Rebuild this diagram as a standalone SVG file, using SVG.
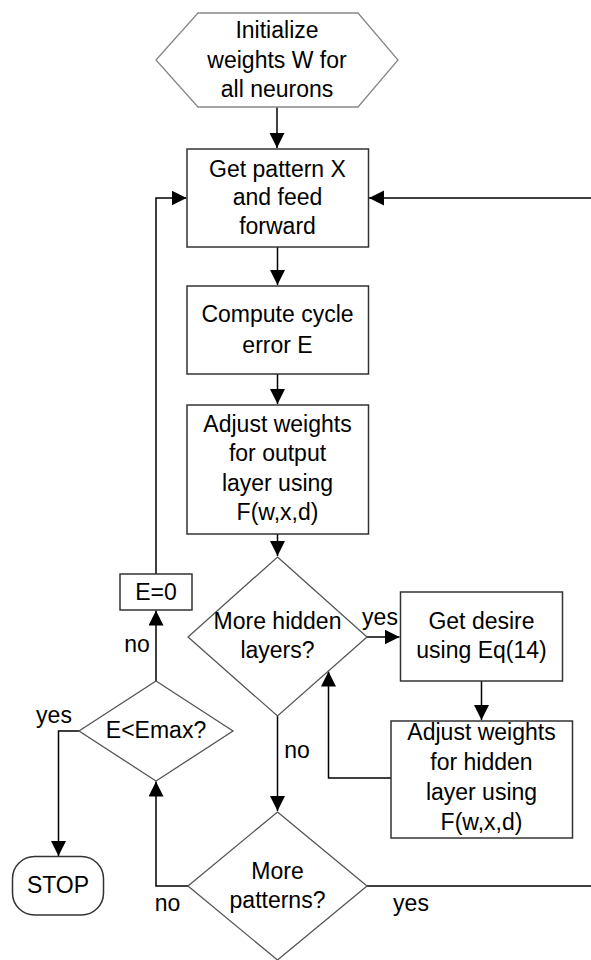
<svg xmlns="http://www.w3.org/2000/svg" width="591" height="960" viewBox="0 0 591 960">
<style>
text{font-family:"Liberation Sans",Arial,sans-serif;font-size:23px;fill:#000;text-anchor:middle}
.box{fill:#fff;stroke:#333;stroke-width:1.5}
.dia{fill:#fff;stroke:#555;stroke-width:1.3}
.hex{fill:#fff;stroke:#888;stroke-width:1.3}
.c{fill:none;stroke:#000;stroke-width:1.5}
.lbl{text-anchor:middle}
</style>
<defs>
<marker id="ah" markerUnits="userSpaceOnUse" markerWidth="16" markerHeight="16" refX="15" refY="7.5" orient="auto">
<path d="M0,0 L15,7.5 L0,15 z" fill="#000"/>
</marker>
</defs>
<rect width="591" height="960" fill="#fff"/>
<g id="connectors">
<path class="c" d="M277,107 V148" marker-end="url(#ah)"/>
<path class="c" d="M277.5,247 V285" marker-end="url(#ah)"/>
<path class="c" d="M277.5,374 V404" marker-end="url(#ah)"/>
<path class="c" d="M277.5,534 V556" marker-end="url(#ah)"/>
<path class="c" d="M367,637 H399.5" marker-end="url(#ah)"/>
<path class="c" d="M481.5,681 V720" marker-end="url(#ah)"/>
<path class="c" d="M391,778 H328.5 V671.5" marker-end="url(#ah)"/>
<path class="c" d="M277.5,716 V811" marker-end="url(#ah)"/>
<path class="c" d="M188,886 H156 V781.5" marker-end="url(#ah)"/>
<path class="c" d="M156,681 V610.5" marker-end="url(#ah)"/>
<path class="c" d="M156,574 V198 H186.5" marker-end="url(#ah)"/>
<path class="c" d="M79,731 H58.5 V856" marker-end="url(#ah)"/>
<path class="c" d="M367,886 H600 V198 H369" marker-end="url(#ah)"/>
<text class="lbl" x="137" y="652">no</text>
<text class="lbl" x="54" y="723">yes</text>
<text class="lbl" x="380" y="625">yes</text>
<text class="lbl" x="297" y="758">no</text>
<text class="lbl" x="167.5" y="911">no</text>
<text class="lbl" x="411" y="911">yes</text>
</g>
<g id="init">
<polygon class="hex" points="156,60 198,13 358,13 398,60 358,107 198,107"/>
<text x="277" y="37.5">Initialize</text>
<text x="277" y="67.5">weights W for</text>
<text x="277" y="96.5">all neurons</text>
</g>
<g id="getpattern">
<rect class="box" x="187" y="149" width="181.5" height="98"/>
<text x="277.5" y="176.5">Get pattern X</text>
<text x="277.5" y="205">and feed</text>
<text x="277.5" y="233.5">forward</text>
</g>
<g id="compute">
<rect class="box" x="187" y="286" width="181.5" height="88"/>
<text x="277.5" y="321.5">Compute cycle</text>
<text x="277.5" y="352.5">error E</text>
</g>
<g id="adjustout">
<rect class="box" x="187" y="405" width="181.5" height="129"/>
<text x="277.5" y="431.5">Adjust weights</text>
<text x="277.5" y="461">for output</text>
<text x="277.5" y="490.5">layer using</text>
<text x="277.5" y="520">F(w,x,d)</text>
</g>
<g id="morehidden">
<polygon class="dia" points="277.5,557 367,637 277.5,716 188,637"/>
<text x="277.5" y="629">More hidden</text>
<text x="277.5" y="658">layers?</text>
</g>
<g id="getdesire">
<rect class="box" x="400.5" y="592" width="162" height="89"/>
<text x="481.5" y="628.5">Get desire</text>
<text x="481.5" y="658">using Eq(14)</text>
</g>
<g id="adjusthidden">
<rect class="box" x="391" y="721" width="181.5" height="117"/>
<text x="481.5" y="740">Adjust weights</text>
<text x="481.5" y="770">for hidden</text>
<text x="481.5" y="800">layer using</text>
<text x="481.5" y="829.5">F(w,x,d)</text>
</g>
<g id="morepatterns">
<polygon class="dia" points="277.5,812 367,886 277.5,960 188,886"/>
<text x="277.5" y="879">More</text>
<text x="277.5" y="908">patterns?</text>
</g>
<g id="emax">
<polygon class="dia" points="156,681 233,731 156,781 79,731"/>
<text x="156" y="737.5">E&lt;Emax?</text>
</g>
<g id="ezero">
<rect class="box" x="120" y="574" width="72" height="36"/>
<text x="156" y="599.5">E=0</text>
</g>
<g id="stop">
<rect class="box" x="12.5" y="856.5" width="91" height="58.5" rx="22" ry="22"/>
<text x="58" y="892.5">STOP</text>
</g>
</svg>
